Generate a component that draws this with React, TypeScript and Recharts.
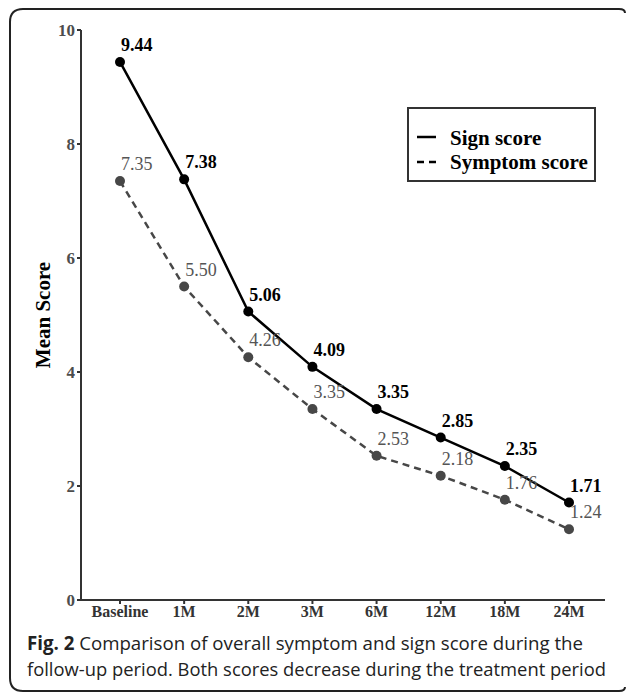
import * as React from 'react';
import { LineChart, Line, XAxis, YAxis } from 'recharts';

const periods = ['Baseline', '1M', '2M', '3M', '6M', '12M', '18M', '24M'];
const signScore = [9.44, 7.38, 5.06, 4.09, 3.35, 2.85, 2.35, 1.71];
const symptomScore = [7.35, 5.5, 4.26, 3.35, 2.53, 2.18, 1.76, 1.24];
const yTicks = [0, 2, 4, 6, 8, 10];

const serif = '"Liberation Serif", "Times New Roman", serif';
const greyLine = '#474747';

// labels sit just above and to the right of each point
const pointLabel = (bold: boolean, color: string) => (props: any) => {
  const { x, y, value } = props;
  return (
    <text
      x={x + 1}
      y={y - 11}
      fontFamily={serif}
      fontSize={18}
      fontWeight={bold ? 700 : 400}
      fill={color}
    >
      {Number(value).toFixed(2)}
    </text>
  );
};

const LegendBox = () => (
  <svg width={190} height={76} style={{ display: 'block' }}>
    <rect x={1} y={1} width={187} height={73} fill="#fff" stroke="#333" strokeWidth={2} />
    <line x1={10} y1={30} x2={29} y2={30} stroke="#000" strokeWidth={2.5} />
    <line x1={10} y1={55} x2={29} y2={55} stroke="#000" strokeWidth={2.5} strokeDasharray="7 5" />
    <text x={43} y={38} fontFamily={serif} fontSize={21} fontWeight={700} fill="#000">
      Sign score
    </text>
    <text x={43} y={62} fontFamily={serif} fontSize={21} fontWeight={700} fill="#000">
      Symptom score
    </text>
  </svg>
);

export default function App() {
  const data = periods.map((p, i) => ({
    period: p,
    sign: signScore[i],
    symptom: symptomScore[i],
  }));

  return (
    <div style={{ position: 'absolute', left: 0, top: 0, width: 627, height: 693, background: '#fff' }}>
      <svg width={627} height={693} style={{ position: 'absolute', left: 0, top: 0 }}>
        <path
          d="M625,13 Q625,9 619,9 L23,9 Q10,9 10,22 L10,678 Q10,691 23,691 L619,691 Q625,691 625,687"
          fill="none"
          stroke="#222"
          strokeWidth={2}
        />
        <text
          transform="translate(50,315) rotate(-90)"
          textAnchor="middle"
          fontFamily={serif}
          fontSize={21}
          fontWeight={700}
          fill="#000"
        >
          Mean Score
        </text>
        <text x={27} y={650} fontFamily='"Open Sans", sans-serif' fontSize={19} fill="#222" textLength={556} lengthAdjust="spacingAndGlyphs">
          <tspan fontWeight={700}>Fig. 2</tspan> Comparison of overall symptom and sign score during the
        </text>
        <text x={27} y={676} fontFamily='"Open Sans", sans-serif' fontSize={19} fill="#222" textLength={579} lengthAdjust="spacingAndGlyphs">
          follow-up period. Both scores decrease during the treatment period
        </text>
      </svg>
      <div style={{ position: 'absolute', left: 0, top: 0 }}>
        <LineChart width={627} height={693} data={data} margin={{ top: 30, right: 22, bottom: 63, left: 21 }}>
          <XAxis
            dataKey="period"
            height={30}
            padding={{ left: 39, right: 36 }}
            stroke="#333"
            strokeWidth={2}
            tickSize={4}
            tickMargin={2}
            tick={{ fontFamily: serif, fontSize: 16, fontWeight: 700, fill: '#333' }}
            interval={0}
          />
          <YAxis
            width={60}
            domain={[0, 10]}
            ticks={yTicks}
            stroke="#333"
            strokeWidth={2}
            tickSize={4}
            tickMargin={2}
            tick={{ fontFamily: serif, fontSize: 17, fontWeight: 700, fill: '#4d4d4d' }}
          />
          <Line
            dataKey="symptom"
            stroke={greyLine}
            strokeWidth={2.5}
            strokeDasharray="7 5"
            dot={{ r: 5, fill: greyLine, stroke: greyLine, strokeWidth: 0 }}
            label={pointLabel(false, '#555')}
            isAnimationActive={false}
          />
          <Line
            dataKey="sign"
            stroke="#000"
            strokeWidth={2.5}
            dot={{ r: 5, fill: '#000', stroke: '#000', strokeWidth: 0 }}
            label={pointLabel(true, '#000')}
            isAnimationActive={false}
          />
        </LineChart>
      </div>
      <div style={{ position: 'absolute', left: 407, top: 107 }}>
        <LegendBox />
      </div>
    </div>
  );
}
